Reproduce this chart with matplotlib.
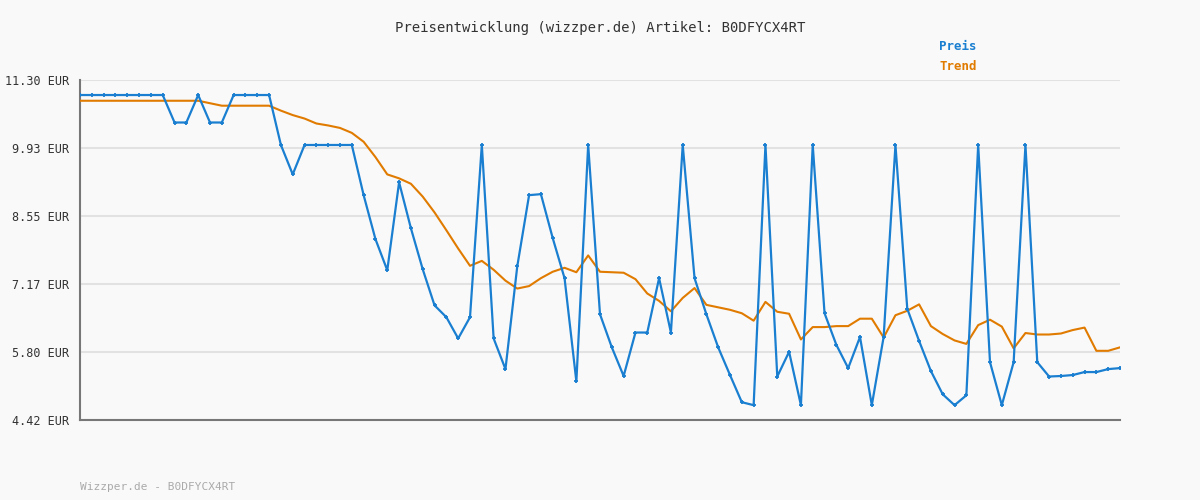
import matplotlib
matplotlib.use('Agg')
import matplotlib.pyplot as plt

# price readings (EUR), one per sample
preis = [10.996] * 8 + [10.44, 10.44, 10.996, 10.44, 10.44] + [10.996] * 4 + [
    9.985, 9.39, 9.985, 9.985, 9.985, 9.985, 9.985, 8.97, 8.08, 7.45, 9.23, 8.30, 7.47,
    6.74, 6.50, 6.07, 6.50, 9.985, 6.07, 5.45, 7.53, 8.97, 8.99, 8.10, 7.29, 5.20,
    9.985, 6.56, 5.89, 5.31, 6.19, 6.19, 7.29, 6.19, 9.985, 7.29, 6.56, 5.89, 5.33,
    4.78, 4.72, 9.985, 5.30, 5.80, 4.72, 9.985, 6.58, 5.94, 5.47, 6.10, 4.72, 6.10,
    9.985, 6.67, 6.02, 5.41, 4.94, 4.72, 4.92, 9.985, 5.59, 4.72, 5.59, 9.985, 5.59,
    5.30, 5.31, 5.33, 5.39, 5.39, 5.45, 5.47]
trend = [10.88] * 11 + [10.83, 10.78, 10.78, 10.78, 10.78, 10.78,
    10.68, 10.59, 10.52, 10.42, 10.38, 10.33, 10.23, 10.05, 9.74, 9.39, 9.31, 9.20,
    8.94, 8.62, 8.26, 7.89, 7.54, 7.64, 7.46, 7.24, 7.08, 7.13, 7.29, 7.42, 7.50,
    7.41, 7.75, 7.42, 7.41, 7.40, 7.27, 6.98, 6.83, 6.62, 6.89, 7.09, 6.75, 6.70,
    6.65, 6.58, 6.43, 6.81, 6.61, 6.57, 6.05, 6.30, 6.30, 6.32, 6.32, 6.47, 6.47,
    6.09, 6.54, 6.63, 6.76, 6.32, 6.16, 6.03, 5.96, 6.34, 6.45, 6.31, 5.87, 6.18,
    6.15, 6.15, 6.17, 6.24, 6.29, 5.82, 5.82, 5.89]
yticks = [4.42, 5.80, 7.17, 8.55, 9.93, 11.30]

bg = '#f9f9f9'
mono = 'DejaVu Sans Mono'
fig = plt.figure(figsize=(12, 5), dpi=100, facecolor=bg)
ax = fig.add_axes([80/1200, 80/500, 1040/1200, 340/500], facecolor=bg)

x = list(range(len(preis)))
ax.plot(x, trend, color='#e07b00', lw=1.5, zorder=3)
ax.plot(x, preis, color='#1a7fd0', lw=1.6, marker='+', ms=3.5, mew=1.3, zorder=4)

ax.set_xlim(0, len(preis) - 1)
ax.set_ylim(4.42, 11.30)
ax.set_yticks(yticks)
ax.set_yticklabels(['%.2f EUR' % v for v in yticks], family=mono, fontsize=8.5, color='#333333')
ax.set_xticks([])
ax.tick_params(axis='y', length=0, pad=8)
ax.grid(axis='y', color='#e2e2e2', lw=1.5)
ax.set_axisbelow(True)
for s in ['top', 'right']:
    ax.spines[s].set_visible(False)
for s in ['left', 'bottom']:
    ax.spines[s].set_color('#777777')
    ax.spines[s].set_linewidth(1.5)

fig.text(0.5, 1 - 28/500, 'Preisentwicklung (wizzper.de) Artikel: B0DFYCX4RT', ha='center',
         va='center', family=mono, fontsize=10, color='#333333')
fig.text(939/1200, 1 - 47/500, 'Preis', family=mono, fontsize=9, weight='bold',
         color='#1a7fd0', va='center')
fig.text(939/1200, 1 - 67/500, 'Trend', family=mono, fontsize=9, weight='bold',
         color='#e07b00', va='center')
fig.text(80/1200, 1 - 487/500, 'Wizzper.de - B0DFYCX4RT', family=mono, fontsize=8,
         color='#aaaaaa', va='center')

fig.savefig('out.png', dpi=100, facecolor=bg)
